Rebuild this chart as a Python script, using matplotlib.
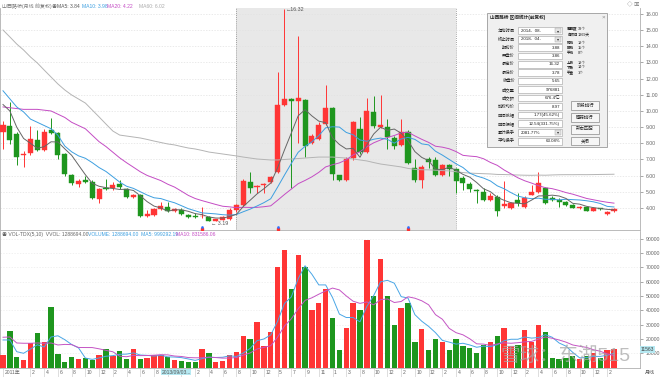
import matplotlib
matplotlib.use('Agg')
import matplotlib.pyplot as plt
import numpy as np
import pandas as pd
from matplotlib.patches import Rectangle

plt.rcParams['font.family'] = ['Liberation Sans', 'Noto Sans CJK SC', 'DejaVu Sans']

# ---------------- data ----------------
opens = [8.69, 9.06, 8.56, 7.25, 7.38, 8.19, 7.56, 8.83, 8.63, 7.31,
         6.06, 5.50, 5.75, 5.63, 4.56, 5.25, 5.25, 5.50, 5.19, 4.69,
         4.81, 3.50, 3.56, 3.94, 4.08, 3.81, 3.88, 3.56, 3.50, 3.48,
         3.46, 3.20, 3.28, 3.31, 3.86, 4.19, 5.63, 5.27, 5.43, 5.63,
         6.25, 10.39, 10.75, 10.63, 10.70, 8.00, 8.25, 9.19, 10.20, 6.02,
         5.75, 7.08, 8.88, 7.44, 9.96, 9.02, 9.04, 8.31, 7.88, 8.71,
         6.50, 5.75, 7.00, 6.96, 6.02, 6.63, 6.44, 5.88, 5.50, 5.13,
         5.02, 4.50, 4.69, 4.13, 4.02, 4.50, 4.08, 4.83, 4.96, 5.25,
         4.63, 4.50, 4.39, 4.21, 3.98, 4.04, 3.83, 3.98, 3.60, 3.81]
highs = [9.38, 10.56, 8.69, 7.50, 9.06, 8.83, 8.88, 9.56, 8.69, 7.38,
         6.13, 5.81, 6.00, 5.75, 5.25, 5.81, 5.63, 5.75, 5.25, 4.88,
         4.88, 3.88, 4.00, 4.39, 4.39, 4.00, 4.00, 3.63, 3.67, 4.06,
         3.50, 3.34, 3.50, 4.00, 4.25, 5.79, 6.21, 5.44, 5.55, 6.00,
         12.38, 16.32, 10.81, 14.63, 10.75, 8.56, 9.31, 11.63, 10.25, 6.06,
         7.13, 9.38, 9.63, 10.81, 10.94, 10.96, 9.50, 8.44, 9.50, 8.81,
         7.00, 6.63, 7.13, 7.13, 6.75, 6.75, 6.50, 6.00, 5.63, 5.19,
         5.25, 4.92, 4.81, 5.69, 4.38, 4.94, 4.75, 5.44, 6.21, 5.31,
         4.75, 4.63, 4.44, 4.25, 4.15, 4.08, 4.04, 4.00, 3.81, 4.00]
lows = [7.63, 7.94, 6.69, 6.56, 7.27, 7.50, 7.50, 8.56, 7.00, 6.00,
        5.44, 5.31, 5.56, 4.56, 4.31, 5.13, 5.13, 5.19, 4.63, 4.63,
        3.45, 3.45, 3.50, 3.88, 3.75, 3.75, 3.56, 3.38, 3.36, 3.38,
        3.19, 3.19, 3.25, 3.28, 3.78, 4.13, 4.94, 4.92, 4.92, 5.56,
        6.19, 10.31, 5.25, 8.00, 7.13, 7.94, 8.19, 9.13, 5.75, 5.69,
        5.69, 6.94, 7.31, 7.38, 8.94, 8.94, 7.63, 7.63, 7.81, 6.75,
        5.63, 5.23, 6.48, 6.00, 6.00, 6.00, 4.94, 5.13, 5.00, 4.31,
        4.44, 4.44, 3.50, 4.00, 3.94, 4.13, 4.00, 4.81, 4.94, 4.25,
        4.44, 4.06, 4.13, 4.00, 3.94, 3.81, 3.81, 3.88, 3.56, 3.75]
closes = [9.13, 8.19, 7.13, 7.33, 8.25, 7.56, 8.70, 8.63, 7.27, 6.13,
          5.56, 5.69, 5.63, 4.63, 5.20, 5.15, 5.44, 5.31, 4.71, 4.81,
          3.50, 3.63, 3.94, 4.13, 3.81, 3.94, 3.63, 3.46, 3.42, 3.50,
          3.21, 3.31, 3.44, 3.88, 4.19, 5.64, 5.25, 5.39, 5.48, 5.94,
          10.38, 10.75, 10.64, 10.81, 7.83, 8.44, 9.13, 10.19, 6.13, 5.75,
          7.06, 9.31, 7.44, 10.00, 9.08, 9.14, 8.36, 7.83, 8.71, 6.79,
          5.75, 6.56, 6.83, 6.06, 6.69, 6.44, 5.65, 5.56, 5.19, 5.04,
          4.50, 4.75, 3.83, 4.25, 4.29, 4.30, 4.64, 4.96, 5.54, 4.33,
          4.50, 4.38, 4.21, 4.02, 4.08, 3.83, 3.98, 3.92, 3.77, 3.94]
volumes = [8800, 25800, 7200, 5300, 17400, 24000, 17900, 42400, 9500, 3700,
           7200, 6000, 6700, 5100, 8600, 13200, 8100, 11400, 5800, 12800,
           5800, 6900, 8800, 8800, 7200, 5100, 4900, 4000, 4000, 13200,
           10000, 4100, 4800, 9000, 11000, 22000, 20000, 32000, 15000, 25000,
           70000, 82000, 55000, 79000, 70000, 40000, 45000, 55000, 35000, 12000,
           28000, 45000, 40000, 89000, 50000, 76000, 50000, 30000, 42000, 45000,
           18000, 27000, 12000, 20000, 18000, 12000, 20000, 15000, 14000, 10000,
           16000, 18000, 22000, 28000, 15000, 16000, 26000, 18000, 30000, 25000,
           7000, 6000, 7000, 8000, 6000, 8000, 10000, 7000, 12000, 12900]

# moving-average values before enough history exists
ma5_head = [10.4, 10.0, 9.0, 8.3]
ma10_head = [11.25, 10.75, 10.25, 9.94, 9.5, 9.3, 9.1, 8.9, 8.5]
ma20_head = [10.25, 10.2, 10.15, 10.1, 10.1, 10.1, 10.05, 10.0, 9.8, 9.6,
             9.3, 9.1, 8.9, 8.5, 8.1, 7.8, 7.45, 7.1, 6.8]
ma60_head = [15.01, 14.58, 14.14, 13.77, 13.34, 12.97, 12.53, 12.10, 11.67, 11.30,
             10.99, 10.74, 10.49, 10.06, 9.63, 9.19, 8.76, 8.51,
             8.45, 8.39, 8.33, 8.24, 8.14, 8.05, 7.96, 7.90, 7.80, 7.71, 7.65,
             7.56, 7.46, 7.40, 7.34, 7.28, 7.22,
             7.15, 7.09, 7.03, 7.00, 6.97, 6.97, 7.00, 7.03, 7.06, 7.09, 7.12,
             7.15, 7.15, 7.15, 7.12, 7.09, 7.03, 6.97, 6.91, 6.81, 6.72, 6.66,
             6.60, 6.54]
vma5_head = [19300, 19300, 11100, 10000]
vma10_head = [21200, 21400, 17200, 17000, 17000, 17200, 17000, 17200, 15800]

tick_bars = [0, 4, 6, 8, 10, 12, 14, 16, 18, 20, 22, 24, 26, 28, 30, 32, 34, 36, 38,
             40, 42, 44, 46, 48, 50, 52, 54, 56, 58, 60, 62, 64, 66, 68, 70, 72, 74,
             76, 78, 80, 82, 84, 86, 88]
# labels at bars 24 and 26 are hidden under the cursor date box in the reference
tick_labels = ['2011年', '2', '4', '6', '8', '10', '12', '2', '4', '6', '8', '', '',
               '2', '4', '6', '8', '10', '12', '5', '7', '9', '11', '1', '3', '8', '10',
               '12', '2', '10', '12', '2', '4', '6', '8', '10', '12', '2', '4', '6', '8',
               '10', '12', '2']
price_ticks = [4, 5, 6, 7, 8, 9, 10, 11, 12, 13, 14, 15, 16]
vol_ticks = [10000, 20000, 30000, 40000, 50000, 60000, 70000, 80000, 90000]

sel_start, sel_end = 34, 66
dialog_rows = [('起始时间', '2014-  08-'), ('终止时间', '2018-  04-'), ('期初价', '3.88'),
               ('开盘价', '3.86'), ('最高价', '16.32'), ('最低价', '3.78'), ('收盘价', '5.65'),
               ('成交量', '976881'), ('成交额', '676.4亿'), ('加权均价', '8.97'),
               ('区间涨幅', '1.77(45.62%)'), ('区间振幅', '12.54(331.75%)'),
               ('累计换手', '2081.77%'), ('平均换手', '63.08%')]

# ---------------- derived ----------------
n = len(closes)
x = np.arange(n)
cs = pd.Series(closes)
ma5 = cs.rolling(5).mean().to_numpy(); ma5[:4] = ma5_head
ma10 = cs.rolling(10).mean().to_numpy(); ma10[:9] = ma10_head
ma20 = cs.rolling(20).mean().to_numpy(); ma20[:19] = ma20_head
ma60 = cs.rolling(60).mean().to_numpy(); ma60[:59] = ma60_head
vs = pd.Series(volumes, dtype=float)
vma5 = vs.rolling(5).mean().to_numpy(); vma5[:4] = vma5_head
vma10 = vs.rolling(10).mean().to_numpy(); vma10[:9] = vma10_head

UP = '#ff3535'
DN = '#1e961e'
up = np.array(closes) >= np.array(opens)
cols = [UP if u else DN for u in up]

W, H = 660, 377
fig = plt.figure(figsize=(6.6, 3.77), dpi=100)
fig.patch.set_facecolor('white')

def fx(px): return px / W
def fy(py): return 1 - py / H

PX_PER_BAR = 6.865
xl = (-3 / PX_PER_BAR, 637 / PX_PER_BAR)

ax = fig.add_axes([0, fy(230), 640 / W, (230 - 8) / H])
axv = fig.add_axes([0, fy(368), 640 / W, (368 - 231) / H])

# price panel
ppu = 16.17
ax.set_xlim(*xl)
ax.set_ylim(4 - 22 / ppu, 4 + 200 / ppu)
ax.axvspan(sel_start, sel_end, color='#e8e8e8', zorder=0, lw=0)
for xv in (sel_start, sel_end):
    ax.axvline(xv, color='#8a8a8a', lw=0.6, ls=(0, (1, 1.5)), zorder=1)
ax.set_yticks(price_ticks)
ax.set_yticklabels([f'{v:.2f}' for v in price_ticks])
ax.grid(axis='y', color='#e2e2e2', lw=0.5, ls=(0, (2, 2)), zorder=0.5)
ax.set_xticks([])

o = np.array(opens); c = np.array(closes)
bot = np.minimum(o, c)
hgt = np.maximum(np.abs(c - o), 0.04)
ax.vlines(x, lows, highs, colors=cols, lw=0.7, zorder=2)
ax.bar(x, hgt, bottom=bot, width=0.74, color=cols, edgecolor=cols, lw=0.3, zorder=3)

ax.plot(x, ma60, color='#b4b4b4', lw=0.7, zorder=4)
ax.plot(x, ma20, color='#c44cc4', lw=0.7, zorder=4)
ax.plot(x, ma10, color='#3d9fe0', lw=0.7, zorder=4)
ax.plot(x, ma5, color='#666666', lw=0.7, zorder=4)

ih = int(np.argmax(highs)); il = int(np.argmin(lows))
ax.text(ih + 0.25, highs[ih] - 0.05, '←16.32', fontsize=3.8, color='#555555', va='center', ha='left', zorder=6)
ax.text(il + 0.3, lows[il] - 0.12, '← 3.19', fontsize=3.8, color='#555555', va='center', ha='left', zorder=6)

for mb in (29, 40, 59):
    ax.plot(mb, 2.73, marker='s', ms=1.8, color='#ff3030', zorder=6, clip_on=False)
    ax.plot(mb, 2.85, marker='o', ms=0.9, color='#3070ff', zorder=6, clip_on=False)

for a in (ax, axv):
    a.yaxis.tick_right()
    a.tick_params(axis='y', labelsize=3.7, colors='#666666', length=2, width=0.4, pad=2)
    for s in a.spines.values():
        s.set_color('#b0b0b0'); s.set_linewidth(0.6)
    a.spines['top'].set_visible(False)
    a.set_facecolor('white')
ax.patch.set_alpha(0)

# volume panel
axv.set_xlim(*xl)
axv.set_ylim(-300, 95500)
axv.bar(x, volumes, width=0.78, color=cols, lw=0, zorder=3)
axv.plot(x, vma5, color='#4aa6e6', lw=0.7, zorder=4)
axv.plot(x, vma10, color='#c455c4', lw=0.7, zorder=4)
axv.set_yticks(vol_ticks)
axv.set_yticklabels([str(v) for v in vol_ticks])
axv.grid(axis='y', color='#ececec', lw=0.5, ls=(0, (2, 2)), zorder=0.5)
axv.set_xticks(tick_bars)
axv.set_xticklabels([])
axv.tick_params(axis='x', colors='#d0d0d0', length=7, width=0.5, direction='out')
xtr = axv.get_xaxis_transform()
for b, t in zip(tick_bars, tick_labels):
    if t:
        axv.text(b + 0.2, -0.012, t, transform=xtr, fontsize=3.6, color='#666666',
                 ha='left', va='top', clip_on=False)

# header texts
fig.text(fx(2), fy(6), '山西路桥(月线 前复权)', fontsize=3.6, color='#777777', va='center')
fig.text(fx(52), fy(6), '◉', fontsize=3.6, color='#777777', va='center')
fig.text(fx(57), fy(6), 'MA5: 3.84', fontsize=3.6, color='#555555', va='center')
fig.text(fx(82), fy(6), 'MA10: 3.98', fontsize=3.6, color='#3d9fe0', va='center')
fig.text(fx(107), fy(6), 'MA20: 4.22', fontsize=3.6, color='#c44cc4', va='center')
fig.text(fx(139), fy(6), 'MA60: 6.02', fontsize=3.6, color='#aaaaaa', va='center')
fig.text(fx(627), fy(5), '◇ ▣', fontsize=4, color='#777777', va='center')

fig.text(fx(2), fy(235), '◉ VOL-TDX(5,10)  VVOL: 1288694.00', fontsize=3.6, color='#666666', va='center')
fig.text(fx(88), fy(235), 'VOLUME: 1288694.00  MA5: 999292.19', fontsize=3.6, color='#3d9fe0', va='center')
fig.text(fx(176), fy(235), 'MA10: 831586.06', fontsize=3.6, color='#c44cc4', va='center')

# cursor/axis boxes
fig.text(fx(176), fy(372), '2013/09/03...', fontsize=3.6, color='#555555', ha='center', va='center',
         bbox=dict(boxstyle='square,pad=0.15', fc='#b6e9f2', ec='none'), zorder=20)
fig.text(fx(641), fy(349.5), '11563', fontsize=3.6, color='#444444', ha='left', va='center',
         bbox=dict(boxstyle='square,pad=0.15', fc='#b6e9f2', ec='none'), zorder=20)
fig.text(fx(650), fy(372), '月线', fontsize=3.6, color='#555555', ha='center', va='center')

# watermark
fig.text(fx(566), fy(356), '雪球：东湖515', fontsize=14, color='#a8a8a8', alpha=0.75,
         ha='center', va='center', zorder=25)

# dialog
def frect(x0, y0, x1, y1, **kw):
    r = Rectangle((fx(x0), fy(y1)), (x1 - x0) / W, (y1 - y0) / H, transform=fig.transFigure, **kw)
    fig.add_artist(r)

frect(487, 13, 607, 147, fc='#f0f0f0', ec='#9a9a9a', lw=0.6, zorder=30)
fig.text(fx(490), fy(17.5), '山西路桥 区间统计(前复权)', fontsize=3.3, color='#222222', va='center',
         weight='bold', zorder=31)
fig.text(fx(603), fy(17.5), '×', fontsize=4.5, color='#888888', va='center', ha='center', zorder=31)
row_y = [30.7, 39.3, 47.6, 56.0, 64.3, 72.6, 81.0, 89.6, 98.0, 106.5, 115.0, 123.5, 132.5, 141.3]
for (lab, val), yy in zip(dialog_rows, row_y):
    fig.text(fx(515), fy(yy), lab, fontsize=3.1, color='#222222', ha='right', va='center', zorder=31)
    frect(518, yy - 3.3, 562, yy + 3.3, fc='white', ec='#a0a0a0', lw=0.4, zorder=31)
    if val.startswith('20'):
        fig.text(fx(521), fy(yy), val, fontsize=3.2, color='#222222', ha='left', va='center', zorder=32)
        frect(555, yy - 2.6, 561, yy + 2.6, fc='#e4e4e4', ec='#a0a0a0', lw=0.3, zorder=32)
        fig.text(fx(558), fy(yy), '▾', fontsize=3, color='#333333', ha='center', va='center', zorder=33)
    else:
        fig.text(fx(560), fy(yy), val, fontsize=3.2, color='#222222', ha='right', va='center', zorder=32)

side = [(28.5, '周期数', '33个'), (34.5, '自然日', '1369天'),
        (42.5, '阳线', '18个'), (47.7, '阴线', '15个'), (52.8, '平线', '0个'),
        (62.5, '上涨', '18个'), (67.5, '下跌', '14个'), (72.5, '平盘', '1个')]
for yy, a_, b_ in side:
    fig.text(fx(567), fy(yy), a_, fontsize=2.5, color='#222222', ha='left', va='center',
             weight='bold', zorder=31)
    fig.text(fx(578), fy(yy), b_, fontsize=2.7, color='#222222', ha='left', va='center', zorder=31)

buttons = [(105.3, '阶段排行'), (117.5, '强弱排行'), (129.2, '形态匹配'), (141.0, '关闭')]
for yy, t in buttons:
    frect(571, yy - 4.3, 599, yy + 4.3, fc='#f6f6f6', ec='#8a8a8a', lw=0.5, zorder=31)
    fig.text(fx(585), fy(yy), t, fontsize=3.2, color='#222222', ha='center', va='center', zorder=32)

fig.savefig('out.png', dpi=100, facecolor='white')
